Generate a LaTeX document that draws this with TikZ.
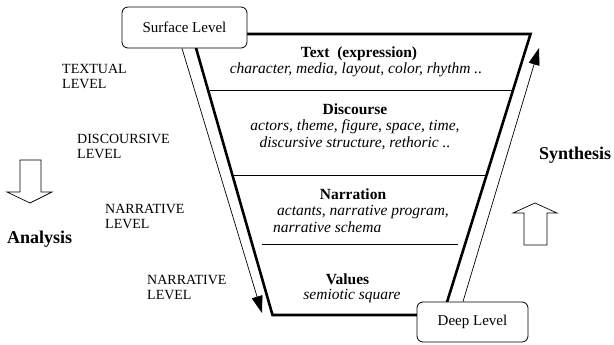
\documentclass[tikz,border=0pt]{standalone}
\usepackage{fontspec}
\setmainfont{Liberation Serif}
\usetikzlibrary{arrows.meta}
\begin{document}
\begin{tikzpicture}[x=1pt,y=-1pt,
  lvlbox/.style={draw, rounded corners=6pt, fill=white, line width=0.8pt, inner sep=0pt,
    font=\fontsize{15}{18}\selectfont},
  lab/.style={align=left, anchor=north west, inner sep=0pt, font=\fontsize{14}{15}\selectfont},
  head/.style={anchor=base, inner sep=0pt, font=\fontsize{15.5}{18}\selectfont\bfseries},
  item/.style={anchor=base, inner sep=0pt, font=\fontsize{15.5}{18}\selectfont\itshape},
  big/.style={anchor=base west, inner sep=0pt, font=\fontsize{18}{20}\selectfont\bfseries},
  funnel/.style={line width=2.6pt, line join=miter},
  divider/.style={line width=0.8pt},
  flow/.style={line width=0.7pt, -{Triangle[length=17pt,width=11pt]}},
  hollow/.style={draw, line width=0.7pt, fill=white, line join=miter}
]
\useasboundingbox (0,0) rectangle (614,345);

% funnel
\draw[funnel] (192,34) -- (530.5,34) -- (443,315) -- (272.5,315) -- cycle;
\draw[divider] (210,90) -- (512.5,90);
\draw[divider] (233,175) -- (486.5,175);
\draw[divider] (262,244.5) -- (458,244.5);

% level boxes
\node[lvlbox, minimum width=125pt, minimum height=41pt] (surf) at (184.5,27.5) {Surface Level};
\node[lvlbox, minimum width=111pt, minimum height=40pt] (deep) at (472.5,322) {Deep Level};

% flow arrows
\coordinate (downend) at (262,313);
\coordinate (upend) at (539,48);
\draw[flow] (surf.south -| 182,0) -- (downend);
\draw[flow] (deep.north -| 463,0) -- (upend);

% texts inside funnel
\node[head] (t1) at (359,58) {Text\ \ (expression)};
\node[item] (t1b) at (356,74) {character, media, layout, color, rhythm ..};
\node[head] (t2) at (355,115) {Discourse};
\node[item] (t2b) at (355,131) {actors, theme, figure, space, time,};
\node[item] (t2c) at (355,147) {discursive structure, rethoric ..};
\node[head] (t3) at (353,200) {Narration};
\node[item, anchor=base west] (t3b) at (277,215.5) {actants, narrative program,};
\node[item, anchor=base west] (t3c) at (273,232) {narrative schema};
\node[head] (t4) at (347.5,284) {Values};
\node[item] (t4b) at (352,299.5) {semiotic square};

% level labels
\node[lab] (l1) at (62,64.5) {TEXTUAL\\LEVEL};
\node[lab] (l2) at (77,134.5) {DISCOURSIVE\\LEVEL};
\node[lab] (l3) at (105,204.5) {NARRATIVE\\LEVEL};
\node[lab] (l4) at (147,275.5) {NARRATIVE\\LEVEL};

% analysis / synthesis
\node[big] (ana) at (7,243) {Analysis};
\node[big] (syn) at (539,160) {Synthesis};

% hollow arrows
\draw[hollow] (20,160) -- (41,160) -- (41,192) -- (52,192) -- (30,203) -- (7,192) -- (20,192) -- cycle;
\draw[hollow] (524,245) -- (547,245) -- (547,213) -- (557,213) -- (535,203) -- (513,213) -- (524,213) -- cycle;
\end{tikzpicture}
\end{document}
